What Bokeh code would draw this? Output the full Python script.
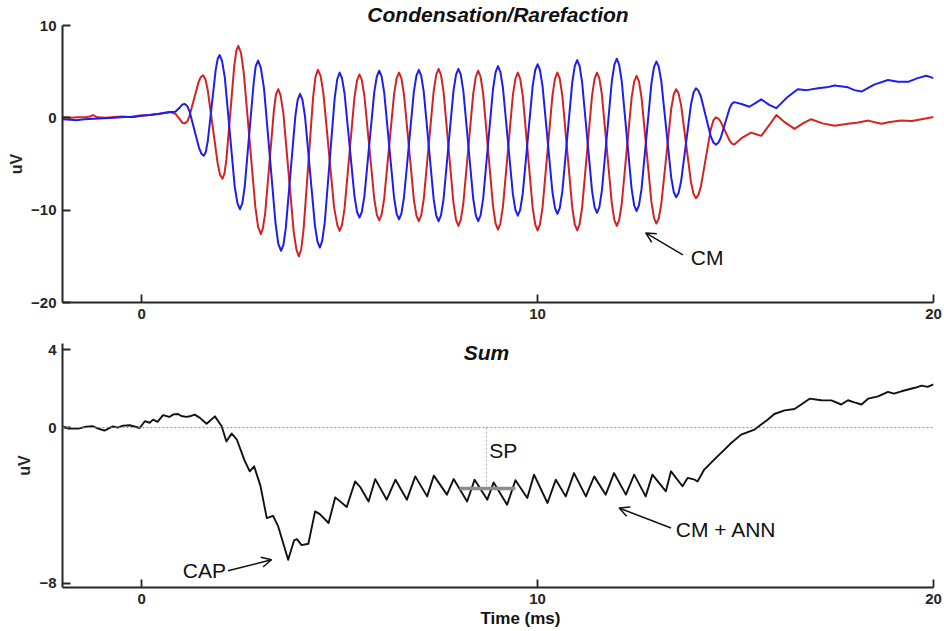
from bokeh.plotting import figure
from bokeh.layouts import column
from bokeh.models import FixedTicker, Label, Arrow, OpenHead, Span, Title
from bokeh.embed import file_html
from bokeh.resources import INLINE

# ---------------- data ----------------
# Condensation (blue) trace: (time ms, amplitude uV)
blue_trace = [
    (-2.0, -0.15), (-1.8, -0.2), (-1.65, -0.25), (-1.45, -0.15), (-1.2, -0.1), (-0.95, -0.05),
    (-0.7, 0.0), (-0.45, 0.1), (-0.2, 0.1), (-0.05, 0.2), (0.2, 0.3), (0.45, 0.45), (0.71, 0.6),
    (0.85, 0.65), (0.97, 1.15),
    (1.03, 1.45), (1.09, 1.5), (1.15, 1.29), (1.21, 0.68), (1.45, -3.28), (1.51, -3.89), (1.57, -4.1),
    (1.62, -3.69), (1.67, -2.51), (1.87, 5.21), (1.92, 6.39), (1.97, 6.8), (2.03, 6.17), (2.10, 4.36),
    (2.35, -7.46), (2.42, -9.27), (2.48, -9.9), (2.54, -9.29), (2.60, -7.55), (2.83, 3.85), (2.88, 5.59),
    (2.94, 6.2), (3.01, 5.42), (3.09, 3.19), (3.38, -11.39), (3.45, -13.62), (3.52, -14.4), (3.58, -13.75),
    (3.64, -11.92), (3.88, 0.12), (3.94, 1.95), (4.0, 2.6), (4.06, 1.97), (4.125, 0.17), (4.375, -11.62),
    (4.44, -13.42), (4.5, -14.05), (4.56, -13.33), (4.625, -11.28), (4.875, 2.13), (4.94, 4.18), (5.0, 4.9),
    (5.06, 4.3), (5.125, 2.61), (5.375, -8.51), (5.44, -10.2), (5.5, -10.8), (5.56, -10.2), (5.625, -8.48),
    (5.875, 2.78), (5.94, 4.5), (6.0, 5.1), (6.06, 4.49), (6.125, 2.75), (6.375, -8.65), (6.44, -10.39),
    (6.5, -11.0), (6.56, -10.38), (6.625, -8.63), (6.875, 2.83), (6.94, 4.58), (7.0, 5.2), (7.06, 4.58),
    (7.125, 2.81), (7.375, -8.81), (7.44, -10.58), (7.5, -11.2), (7.56, -10.57), (7.625, -8.79),
    (7.875, 2.89), (7.94, 4.67), (8.0, 5.3), (8.06, 4.67), (8.125, 2.89), (8.375, -8.79), (8.44, -10.57),
    (8.5, -11.2), (8.56, -10.56), (8.625, -8.75), (8.875, 3.15), (8.94, 4.96), (9.0, 5.6), (9.06, 4.98),
    (9.125, 3.23), (9.375, -8.23), (9.44, -9.98), (9.5, -10.6), (9.56, -9.98), (9.625, -8.21),
    (9.875, 3.41), (9.94, 5.18), (10.0, 5.8), (10.06, 5.18), (10.125, 3.43), (10.375, -8.03),
    (10.44, -9.78), (10.5, -10.4), (10.56, -9.77), (10.625, -7.97), (10.875, 3.82), (10.94, 5.62),
    (11.0, 6.25), (11.06, 5.62), (11.125, 3.83), (11.375, -7.88), (11.44, -9.67), (11.5, -10.3),
    (11.56, -9.67), (11.625, -7.86), (11.875, 3.96), (11.94, 5.77), (12.0, 6.4), (12.06, 5.77),
    (12.125, 3.99), (12.375, -7.69), (12.44, -9.47), (12.5, -10.1), (12.56, -9.48), (12.625, -7.73),
    (12.875, 3.73), (12.94, 5.48), (13.0, 6.1), (13.06, 5.54), (13.125, 3.95), (13.375, -6.45),
    (13.44, -8.04), (13.5, -8.6), (13.56, -8.15), (13.625, -6.88), (13.875, 1.48), (13.94, 2.75),
    (14.0, 3.2), (14.06, 2.97), (14.125, 2.31), (14.375, -2.01), (14.44, -2.67), (14.5, -2.9),
    (14.56, -2.73), (14.62, -2.23), (14.85, 1.03), (14.91, 1.53), (14.97, 1.7),
    (15.15, 1.5), (15.35, 1.2), (15.5, 1.6), (15.65, 2.0), (15.85, 1.4), (16.03, 1.05), (16.3, 2.2),
    (16.57, 3.1), (16.8, 3.0), (17.08, 3.2), (17.3, 3.3), (17.5, 3.5), (17.84, 3.3), (18.0, 3.0),
    (18.18, 2.85), (18.5, 3.6), (18.85, 4.1), (19.1, 3.9), (19.36, 3.9), (19.6, 4.3), (19.82, 4.55),
    (20.0, 4.3),
]

# Rarefaction (red) trace
red_trace = [
    (-2.0, 0.05), (-1.8, 0.0), (-1.6, 0.05), (-1.4, 0.1), (-1.3, 0.15), (-1.23, 0.3), (-1.12, 0.05),
    (-0.9, 0.0), (-0.7, 0.1), (-0.5, 0.15), (-0.3, 0.1), (-0.05, 0.25), (0.2, 0.3), (0.45, 0.45),
    (0.71, 0.65), (0.85, 0.45), (0.97, -0.2),
    (1.03, -0.55), (1.09, -0.6), (1.15, -0.4), (1.205, 0.16), (1.435, 3.84), (1.49, 4.4), (1.55, 4.6),
    (1.61, 4.17), (1.67, 2.96), (1.92, -4.96), (1.98, -6.17), (2.04, -6.6), (2.09, -6.05), (2.14, -4.50),
    (2.34, 5.70), (2.39, 7.25), (2.44, 7.8), (2.51, 7.02), (2.58, 4.82), (2.87, -9.62), (2.94, -11.82),
    (3.01, -12.6), (3.06, -12.0), (3.12, -10.31), (3.34, 0.81), (3.39, 2.5), (3.45, 3.1), (3.51, 2.41),
    (3.58, 0.46), (3.84, -12.36), (3.91, -14.31), (3.97, -15.0), (4.03, -14.23), (4.09, -12.05),
    (4.33, 2.25), (4.39, 4.43), (4.45, 5.2), (4.52, 4.54), (4.59, 2.65), (4.86, -9.70), (4.94, -11.59),
    (5.0, -12.25), (5.06, -11.61), (5.125, -9.78), (5.375, 2.23), (5.44, 4.06), (5.5, 4.7), (5.56, 4.1),
    (5.625, 2.39), (5.875, -8.79), (5.94, -10.5), (6.0, -11.1), (6.06, -10.49), (6.125, -8.76),
    (6.375, 2.56), (6.44, 4.29), (6.5, 4.9), (6.56, 4.29), (6.625, 2.55), (6.875, -8.85), (6.94, -10.59),
    (7.0, -11.2), (7.06, -10.57), (7.125, -8.79), (7.375, 2.89), (7.44, 4.67), (7.5, 5.3), (7.56, 4.65),
    (7.625, 2.82), (7.875, -9.22), (7.94, -11.05), (8.0, -11.7), (8.06, -11.06), (8.125, -9.25),
    (8.375, 2.65), (8.44, 4.46), (8.5, 5.1), (8.56, 4.45), (8.625, 2.59), (8.875, -9.59), (8.94, -11.45),
    (9.0, -12.1), (9.06, -11.45), (9.125, -9.62), (9.375, 2.42), (9.44, 4.25), (9.5, 4.9), (9.56, 4.25),
    (9.625, 2.40), (9.875, -9.70), (9.94, -11.55), (10.0, -12.2), (10.06, -11.55), (10.125, -9.70),
    (10.375, 2.40), (10.44, 4.25), (10.5, 4.9), (10.56, 4.25), (10.625, 2.40), (10.875, -9.70),
    (10.94, -11.55), (11.0, -12.2), (11.06, -11.55), (11.125, -9.70), (11.375, 2.40), (11.44, 4.25),
    (11.5, 4.9), (11.56, 4.27), (11.625, 2.48), (11.875, -9.28), (11.94, -11.07), (12.0, -11.7),
    (12.06, -11.08), (12.125, -9.33), (12.375, 2.18), (12.44, 3.93), (12.5, 4.55), (12.56, 3.94),
    (12.625, 2.21), (12.875, -9.11), (12.94, -10.84), (13.0, -11.45), (13.06, -10.9), (13.125, -9.33),
    (13.375, 0.98), (13.44, 2.55), (13.5, 3.1), (13.56, 2.65), (13.625, 1.38), (13.875, -6.98),
    (13.94, -8.25), (14.0, -8.7), (14.06, -8.37), (14.125, -7.42), (14.375, -1.23), (14.44, -0.28),
    (14.5, 0.05), (14.56, -0.06), (14.62, -0.38), (14.85, -2.47), (14.91, -2.79), (14.97, -2.9),
    (15.15, -2.2), (15.39, -1.6), (15.5, -1.75), (15.65, -1.95), (15.85, -0.8), (16.03, 0.3),
    (16.25, -0.5), (16.49, -1.2), (16.7, -0.6), (16.91, -0.15), (17.2, -0.6), (17.5, -0.85),
    (17.84, -0.65), (18.1, -0.5), (18.35, -0.3), (18.68, -0.65), (18.9, -0.45), (19.19, -0.3),
    (19.45, -0.35), (19.7, -0.15), (20.0, 0.1),
]

# Sum trace
sum_trace = [
    (-2.0, 0.05), (-1.85, -0.05), (-1.6, -0.05), (-1.4, 0.05), (-1.23, 0.07), (-1.1, -0.05),
    (-0.94, -0.15), (-0.73, 0.06), (-0.6, 0.0), (-0.47, 0.1), (-0.3, 0.12), (-0.05, -0.02),
    (0.08, 0.33), (0.2, 0.25), (0.29, 0.41), (0.4, 0.3), (0.54, 0.64), (0.7, 0.55), (0.8, 0.68),
    (0.92, 0.7), (1.0, 0.6), (1.13, 0.55), (1.25, 0.6), (1.34, 0.67), (1.47, 0.5), (1.64, 0.2),
    (1.85, 0.58), (2.02, 0.07), (2.14, -0.71), (2.27, -0.3), (2.4, -0.6), (2.6, -1.7), (2.73, -2.25),
    (2.84, -1.99), (3.0, -3.0), (3.16, -4.66), (3.32, -4.54), (3.45, -5.1), (3.7, -6.8), (3.85, -5.8),
    (3.92, -5.74), (4.04, -6.05), (4.21, -5.98), (4.38, -4.31), (4.5, -4.45), (4.72, -4.91),
    (4.89, -3.59), (5.18, -4.09), (5.39, -2.77), (5.52, -3.06), (5.73, -3.8), (5.9, -2.65),
    (6.19, -3.71), (6.41, -2.68), (6.7, -3.71), (6.91, -2.51), (7.21, -3.54), (7.38, -2.47),
    (7.71, -3.45), (7.88, -2.65), (8.22, -3.8), (8.41, -2.68), (8.73, -3.71), (8.89, -2.82),
    (9.23, -3.97), (9.44, -2.71), (9.74, -3.62), (9.91, -2.42), (10.25, -3.88), (10.46, -2.68),
    (10.71, -3.54), (10.92, -2.34), (11.22, -3.54), (11.43, -2.51), (11.72, -3.45), (11.93, -2.34),
    (12.23, -3.45), (12.44, -2.42), (12.73, -3.54), (12.9, -2.42), (13.24, -3.28), (13.37, -2.25),
    (13.66, -3.02), (13.79, -2.59), (13.97, -2.68), (14.04, -2.77), (14.21, -2.16), (14.46, -1.65),
    (14.72, -1.13), (14.89, -0.79), (15.14, -0.36), (15.48, -0.1), (15.81, 0.41), (15.98, 0.7),
    (16.24, 0.89), (16.49, 0.96), (16.66, 1.19), (16.87, 1.49), (17.16, 1.41), (17.42, 1.4),
    (17.67, 1.19), (17.84, 1.41), (18.0, 1.3), (18.18, 1.19), (18.35, 1.49), (18.6, 1.61),
    (18.85, 1.84), (19.0, 1.75), (19.19, 1.87), (19.53, 2.05), (19.7, 2.16), (19.85, 2.1), (20.0, 2.22),
]

x_ticks = [0, 10, 20]
top_y_ticks = [-20, -10, 0, 10]
bottom_y_ticks = [-8, 0, 4]

sp_time = 8.71          # time of the SP marker (ms)
sp_level = -3.14        # SP level (uV)
sp_window = [8.03, 9.44]

blue_t = [t for t, v in blue_trace]
blue_v = [v for t, v in blue_trace]
red_t = [t for t, v in red_trace]
red_v = [v for t, v in red_trace]
sum_t = [t for t, v in sum_trace]
sum_v = [v for t, v in sum_trace]

FONT = "Liberation Sans"
RED = "#d42323"
BLUE = "#1e1ef0"
AX = "#262626"
INK = "#111111"


def style(p, yticks):
    p.xaxis.ticker = FixedTicker(ticks=x_ticks)
    p.yaxis.ticker = FixedTicker(ticks=yticks)
    for ax in (p.xaxis[0], p.yaxis[0]):
        ax.major_tick_in = 8
        ax.major_tick_out = 0
        ax.minor_tick_in = 0
        ax.minor_tick_out = 0
        ax.axis_line_width = 2
        ax.axis_line_color = AX
        ax.major_tick_line_width = 1.8
        ax.major_tick_line_color = AX
        ax.major_label_text_font = FONT
        ax.major_label_text_font_style = "bold"
        ax.major_label_text_font_size = "15px"
        ax.major_label_text_color = AX
    p.xaxis.major_label_standoff = 6
    p.yaxis.major_label_standoff = 6
    p.yaxis.axis_label = "uV"
    p.yaxis.axis_label_text_font = FONT
    p.yaxis.axis_label_text_font_style = "bold"
    p.yaxis.axis_label_text_font_size = "16px"
    p.yaxis.axis_label_text_color = AX
    p.yaxis.axis_label_standoff = 3
    p.grid.visible = False
    p.outline_line_color = None
    p.background_fill_color = "white"
    p.border_fill_color = "white"


def ann(p, x, y, text, align="left", size="21px", style_="normal"):
    p.add_layout(Label(x=x, y=y, text=text, text_align=align, text_baseline="middle",
                       text_font=FONT, text_font_size=size, text_font_style=style_,
                       text_color=INK))


def arrow(p, x0, y0, x1, y1):
    p.add_layout(Arrow(end=OpenHead(size=10, line_width=1.5, line_color=INK),
                       x_start=x0, y_start=y0, x_end=x1, y_end=y1,
                       line_width=1.5, line_color=INK))


# ---------------- top panel ----------------
p1 = figure(width=944, height=333, x_range=(-2, 20), y_range=(-20, 10),
            min_border_left=62, min_border_right=11, min_border_top=25, min_border_bottom=31,
            toolbar_location=None, output_backend="svg", title=None)
p1.title = Title(text="Condensation/Rarefaction", align="center", standoff=0,
                 text_font=FONT, text_font_size="21px", text_font_style="bold italic",
                 text_color=INK)
style(p1, top_y_ticks)
p1.line(red_t, red_v, line_color=RED, line_width=2, line_join="round")
p1.line(blue_t, blue_v, line_color=BLUE, line_width=2, line_join="round")
arrow(p1, 13.67, -14.84, 12.73, -12.46)
ann(p1, 13.87, -15.15, "CM")

# ---------------- bottom panel ----------------
p2 = figure(width=944, height=298, x_range=(-2, 20), y_range=(-8.23, 4.33),
            min_border_left=62, min_border_right=11, min_border_top=10, min_border_bottom=44,
            toolbar_location=None, output_backend="svg", title=None)
style(p2, bottom_y_ticks)
p2.add_layout(Title(text="Time (ms)", align="left", offset=418, standoff=0,
                    text_font=FONT, text_font_size="17px", text_font_style="bold",
                    text_color=INK), "below")
p2.add_layout(Span(location=0, dimension="width", line_color="#8a8a8a", line_width=1,
                   line_dash="2 2"))
p2.segment(x0=[sp_time], y0=[0], x1=[sp_time], y1=[sp_level], line_color="#b0b0b0",
           line_width=1, line_dash="2 2")
p2.line(sum_t, sum_v, line_color=INK, line_width=1.9, line_join="round")
p2.segment(x0=[sp_window[0]], y0=[sp_level], x1=[sp_window[1]], y1=[sp_level],
           line_color="#8c8c8c", line_width=3.5)
ann(p2, 8.71, 3.88, "Sum", align="center", size="21px", style_="bold italic")
ann(p2, 8.78, -1.19, "SP")
arrow(p2, 2.18, -7.37, 3.28, -6.8)
ann(p2, 2.13, -7.35, "CAP", align="right")
arrow(p2, 13.37, -5.17, 12.06, -4.14)
ann(p2, 13.49, -5.26, "CM + ANN")

layout = column(p1, p2)
open("out.html", "w").write(file_html(layout, INLINE))
